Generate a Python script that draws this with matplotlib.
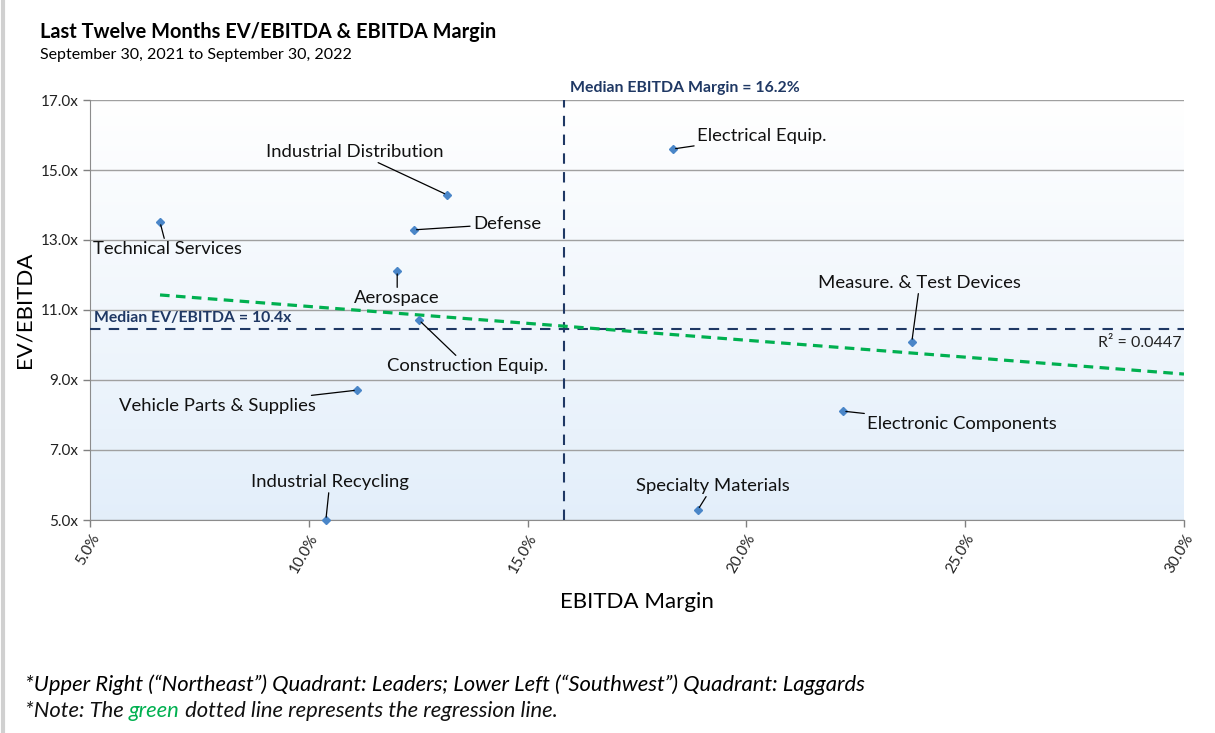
import matplotlib.pyplot as plt
import numpy as np
from matplotlib.lines import Line2D

# data (EBITDA margin in %, EV/EBITDA multiple)
sectors = ['Technical Services', 'Industrial Distribution', 'Defense', 'Aerospace',
           'Construction Equip.', 'Vehicle Parts & Supplies', 'Industrial Recycling',
           'Electrical Equip.', 'Measure. & Test Devices', 'Electronic Components',
           'Specialty Materials']
margin = [6.6, 13.16, 12.40, 12.02, 12.52, 11.10, 10.39, 18.32, 23.78, 22.21, 18.89]
ev_ebitda = [13.51, 14.29, 13.29, 12.11, 10.71, 8.71, 5.0, 15.60, 10.09, 8.11, 5.29]

median_margin = 15.83       # where the line is drawn
median_margin_label = 'Median EBITDA Margin = 16.2%'
median_ev = 10.46
median_ev_label = 'Median EV/EBITDA = 10.4x'

# regression line end points as drawn in the chart
trend_x = [6.6, 30.0]
trend_y = [11.43, 9.17]
r2_label = 'R² = 0.0447'

x_ticks = [5, 10, 15, 20, 25, 30]
y_ticks = [5, 7, 9, 11, 13, 15, 17]

# label offsets in pixels (dx, dy, horizontal alignment)
label_pos = {
    'Technical Services': (7, -27, 'center'),
    'Industrial Distribution': (-92, 43, 'center'),
    'Defense': (59, 6, 'left'),
    'Aerospace': (0, -27, 'center'),
    'Construction Equip.': (48, -46, 'center'),
    'Vehicle Parts & Supplies': (-41, -16, 'right'),
    'Industrial Recycling': (4, 38, 'center'),
    'Electrical Equip.': (24, 13, 'left'),
    'Measure. & Test Devices': (8, 59, 'center'),
    'Electronic Components': (24, -13, 'left'),
    'Specialty Materials': (15, 24, 'center'),
}

plt.rcParams['font.family'] = ['Lato', 'DejaVu Sans']

navy = '#1f3864'
green = '#00b050'
px = 72 / 100  # pixels -> points

fig = plt.figure(figsize=(12.15, 7.33), dpi=100)
ax = fig.add_axes([90 / 1215, 1 - 520 / 733, 1094 / 1215, 420 / 733])

# gradient background
grad = np.linspace(0, 1, 256).reshape(-1, 1)
top = np.array([1.0, 1.0, 1.0])
bot = np.array([0.89, 0.935, 0.98])
img = top + (bot - top) * grad[:, :, None] * np.ones((1, 1, 3))
ax.imshow(img, extent=[0, 1, 0, 1], transform=ax.transAxes, aspect='auto', zorder=0)

ax.set_xlim(5, 30)
ax.set_ylim(5, 17)
ax.set_xticks(x_ticks)
ax.set_yticks(y_ticks)
ax.set_xticklabels([f'{v:.1f}%' for v in x_ticks], rotation=60, ha='right',
                   rotation_mode='anchor', fontsize=11)
ax.set_yticklabels([f'{v:.1f}x' for v in y_ticks], fontsize=11)
ax.tick_params(colors='#808080', labelcolor='#222222', length=5, width=1)
ax.grid(axis='y', color='#a0a0a0', linewidth=1)
ax.set_axisbelow(True)
for s in ['top', 'right']:
    ax.spines[s].set_visible(False)
for s in ['left', 'bottom']:
    ax.spines[s].set_color('#8c8c8c')

ax.set_xlabel('EBITDA Margin', fontsize=16, labelpad=12)
ax.set_ylabel('EV/EBITDA', fontsize=16, labelpad=4)

# median lines and regression
ax.axvline(median_margin, color=navy, lw=1.5, dashes=(5, 4), zorder=3)
ax.axhline(median_ev, color=navy, lw=1.5, dashes=(5, 4), zorder=3)
ax.plot(trend_x, trend_y, color=green, lw=2.3, dashes=(3, 2), zorder=3)

ax.text(median_margin + 0.15, 17.15, median_margin_label, color=navy,
        fontsize=11.4, fontweight='bold', va='bottom', ha='left')
ax.text(5.1, median_ev + 0.1, median_ev_label, color=navy,
        fontsize=11.3, fontweight='bold', va='bottom', ha='left')
ax.text(29.95, median_ev - 0.2, r2_label, fontsize=11.5, ha='right', va='top',
        color='#222222')

ax.plot(margin, ev_ebitda, 'D', color='#4a86c8', ms=4, zorder=4, clip_on=False)

for name, x, y in zip(sectors, margin, ev_ebitda):
    dx, dy, ha = label_pos[name]
    ax.annotate(name, (x, y), xytext=(dx * px, dy * px), textcoords='offset points',
                ha=ha, va='center', fontsize=13.3, color='#111111',
                arrowprops=dict(arrowstyle='-', color='black', lw=0.9,
                                shrinkA=0, shrinkB=2), zorder=5)

# titles
fig.text(40 / 1215, 1 - 32 / 733, 'Last Twelve Months EV/EBITDA & EBITDA Margin',
         fontsize=14.4, fontweight='bold', va='center')
fig.text(40 / 1215, 1 - 55 / 733, 'September 30, 2021 to September 30, 2022',
         fontsize=11.5, va='center')

# footnotes
fig.text(25 / 1215, 1 - 685 / 733,
         '*Upper Right (\u201cNortheast\u201d) Quadrant: Leaders; Lower Left (\u201cSouthwest\u201d) Quadrant: Laggards',
         fontsize=15.8, style='italic', va='center')
parts = [('*Note: The ', '#111111'), ('green', green),
         (' dotted line represents the regression line.', '#111111')]
fig.canvas.draw()
renderer = fig.canvas.get_renderer()
xpos = 25
for txt, col in parts:
    t = fig.text(xpos / 1215, 1 - 711 / 733, txt, fontsize=15.8, style='italic',
                 va='center', color=col)
    xpos += t.get_window_extent(renderer).width

# light border on the left edge
fig.add_artist(Line2D([3 / 1215, 3 / 1215], [0, 1], color='#d0d0d0', lw=3,
                      transform=fig.transFigure))

fig.savefig('out.png', dpi=100)
